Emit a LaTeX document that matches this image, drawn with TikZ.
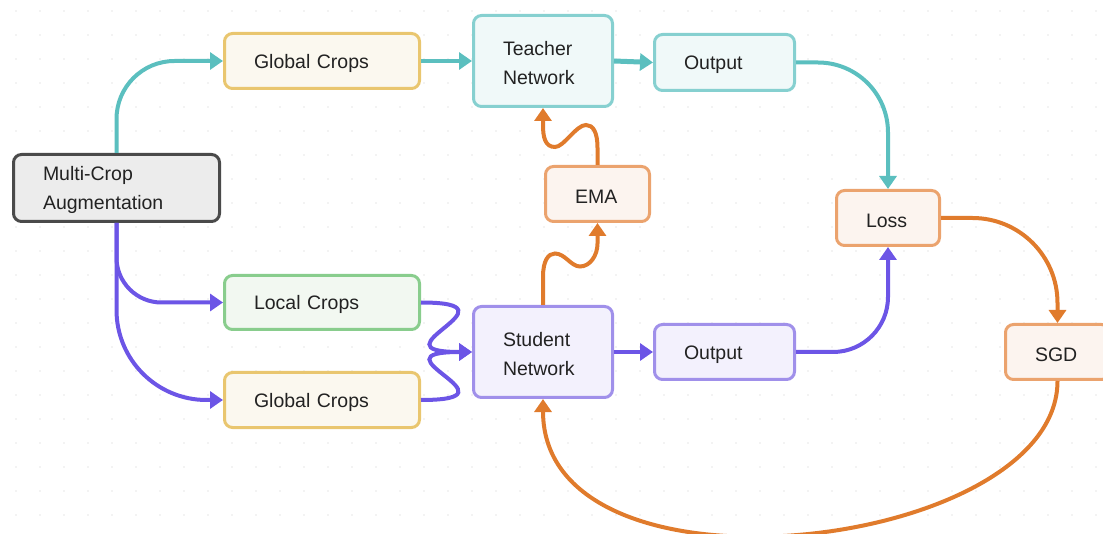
\documentclass[tikz,border=0pt]{standalone}
\usepackage{fontspec}
\setmainfont{Liberation Sans}
\usetikzlibrary{arrows.meta}

\definecolor{txtc}{HTML}{222222}
\definecolor{dotc}{HTML}{E6E6E6}
\definecolor{tealln}{HTML}{5BBFBF}
\definecolor{tealbd}{HTML}{86D0D0}
\definecolor{tealbg}{HTML}{F0F9F9}
\definecolor{purpln}{HTML}{6C55E6}
\definecolor{purpbd}{HTML}{A090EA}
\definecolor{purpbg}{HTML}{F3F1FD}
\definecolor{orgln}{HTML}{E07B2C}
\definecolor{orgbd}{HTML}{EBA36E}
\definecolor{orgbg}{HTML}{FCF4EF}
\definecolor{yelbd}{HTML}{E9C66F}
\definecolor{yelbg}{HTML}{FBF8EF}
\definecolor{grnbd}{HTML}{89CD8D}
\definecolor{grnbg}{HTML}{F2F8F1}
\definecolor{grybd}{HTML}{4A4A4A}
\definecolor{grybg}{HTML}{ECECEC}

\tikzset{
	blk/.style={rectangle, rounded corners=8pt, line width=3pt, inner xsep=29.5pt,
		inner ysep=0pt, align=left, text=txtc, font=\fontsize{19.5}{29}\selectfont,
		execute at begin node={\rule{0pt}{19pt}}},
	grayblk/.style={blk, draw=grybd, fill=grybg},
	yelblk/.style={blk, draw=yelbd, fill=yelbg},
	grnblk/.style={blk, draw=grnbd, fill=grnbg},
	tealblk/.style={blk, draw=tealbd, fill=tealbg},
	purpblk/.style={blk, draw=purpbd, fill=purpbg},
	orgblk/.style={blk, draw=orgbd, fill=orgbg},
	conn/.style={line width=4pt, -{Triangle[length=13pt,width=17pt]}},
	tealarr/.style={conn, draw=tealln},
	purparr/.style={conn, draw=purpln},
	orgarr/.style={conn, draw=orgln},
}

\begin{document}
\begin{tikzpicture}[x=1pt, y=-1pt]
	\useasboundingbox (0,0) rectangle (1103,534);
	\clip (0,0) rectangle (1103,534);
	
	% dotted background
	\foreach \i in {16,40,...,1096}{
		\foreach \j in {11,35,...,527}{
			\fill[dotc] (\i,\j) circle (0.9pt);
		}
	}
	
	% boxes
	\node[grayblk, text width=147pt, minimum height=67pt] (mc) at (116.5,188) {Multi-Crop\\Augmentation};
	\node[yelblk, text width=136pt, minimum height=55pt] (gcT) at (322,61) {Global Crops};
	\node[grnblk, text width=136pt, minimum height=54pt] (lc) at (322,302.5) {Local Crops};
	\node[yelblk, text width=136pt, minimum height=55pt] (gcB) at (322,400) {Global Crops};
	\node[tealblk, text width=80pt, minimum height=91pt] (teacher) at (543,61) {Teacher\\Network};
	\node[purpblk, text width=80pt, minimum height=91pt] (student) at (543,352) {Student\\Network};
	\node[tealblk, text width=81pt, minimum height=56pt] (outT) at (724.5,62.5) {Output};
	\node[purpblk, text width=81pt, minimum height=55pt] (outS) at (724.5,352) {Output};
	\node[orgblk, text width=45pt, minimum height=55pt] (ema) at (597.5,194) {EMA};
	\node[orgblk, text width=44pt, minimum height=55pt] (loss) at (888,218) {Loss};
	\node[orgblk, text width=45pt, minimum height=55pt] (sgd) at (1057.5,352) {SGD};
	
	% teacher branch
	\draw[tealarr, rounded corners=58pt] (mc.north) |- (gcT.west);
	\draw[tealarr] (gcT.east) -- (teacher.west);
	\draw[tealarr, line width=5pt] (teacher.east) -- (outT.west);
	\draw[tealarr, rounded corners=70pt] (outT.east) -| (loss.north);
	
	% student branch
	\draw[purparr, rounded corners=45pt] (mc.south) |- (lc.west);
	\draw[purparr, rounded corners=90pt] (mc.south) |- (gcB.west);
	\draw[purparr] (lc.east) .. controls +(105,0) and +(-105,0) .. (student.west);
	\draw[purparr] (gcB.east) .. controls +(105,0) and +(-105,0) .. (student.west);
	\draw[purparr] (student.east) -- (outS.west);
	\draw[purparr, rounded corners=55pt] (outS.east) -| (loss.south);
	
	% updates
	\draw[orgarr] (student.north) -- ++(0,-28) .. controls +(0,-16) and +(-7,0) .. ++(12,-23.5)
		.. controls +(10,0) and +(-9,0) .. ++(25,13) .. controls +(10,0) and +(0,12) .. ++(17.5,-23) -- (ema.south);
	\draw[orgarr] (ema.north) -- ++(0,-17) .. controls +(0,-16) and +(7,0) .. ++(-11.5,-23)
		.. controls +(-10,0) and +(9,0) .. ++(-31,22) .. controls +(-10,0) and +(0,12) .. ++(-12,-22) -- (teacher.south);
	\draw[orgarr, rounded corners=85pt] (loss.east) -| (sgd.north);
	\draw[orgarr] (sgd.south) .. controls +(0,170) and +(0,212) .. (student.south);
	
\end{tikzpicture}
\end{document}
